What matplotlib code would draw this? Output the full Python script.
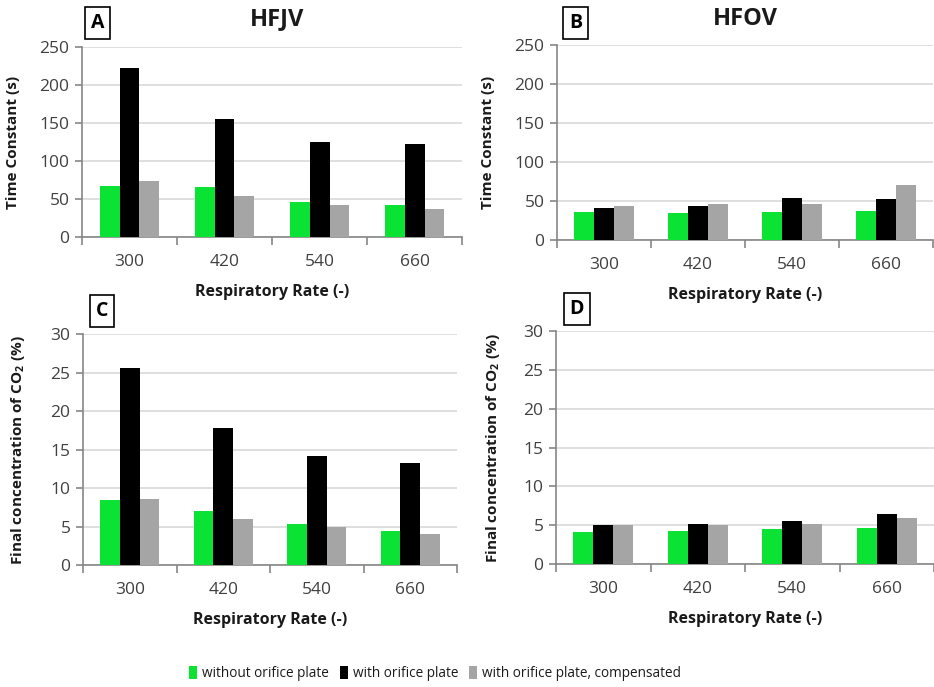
import matplotlib
matplotlib.use("Agg")
import matplotlib.pyplot as plt
from matplotlib.patches import Patch
import numpy as np

plt.rcParams['font.family'] = ['Open Sans', 'DejaVu Sans']
plt.rcParams['mathtext.fontset'] = 'custom'
plt.rcParams['mathtext.rm'] = 'Open Sans'
plt.rcParams['mathtext.bf'] = 'Open Sans:bold'

rates = ["300", "420", "540", "660"]
series_names = ["without orifice plate", "with orifice plate", "with orifice plate, compensated"]
colors = ["#0BE334", "#000000", "#A5A5A5"]

# Time constants (s)
hfjv_tc_without = [66.5, 66, 46, 42]
hfjv_tc_with = [222.5, 155, 125, 123]
hfjv_tc_comp = [74, 53.5, 42, 36.5]

hfov_tc_without = [35.5, 34, 35.5, 37]
hfov_tc_with = [41, 43, 54, 52]
hfov_tc_comp = [43, 46.5, 46.5, 70.5]

# Final CO2 concentration (%)
hfjv_co2_without = [8.5, 7.0, 5.3, 4.4]
hfjv_co2_with = [25.6, 17.8, 14.2, 13.3]
hfjv_co2_comp = [8.6, 6.0, 4.9, 4.0]

hfov_co2_without = [4.1, 4.3, 4.5, 4.7]
hfov_co2_with = [5.0, 5.2, 5.6, 6.5]
hfov_co2_comp = [5.0, 5.0, 5.2, 5.9]

text_col = "#1a1a1a"
tick_col = "#404040"
spine_col = "#868686"
grid_col = "#D9D9D9"

fig = plt.figure(figsize=(9.34, 6.87), dpi=100)

positions = {
    "A": [0.0878, 0.655, 0.4069, 0.2766],
    "B": [0.5964, 0.6507, 0.4026, 0.2838],
    "C": [0.0889, 0.1776, 0.4004, 0.3360],
    "D": [0.5953, 0.1790, 0.4047, 0.3390],
}

panels = [
    ("A", [hfjv_tc_without, hfjv_tc_with, hfjv_tc_comp], 250, 50, "Time Constant (s)", "HFJV"),
    ("B", [hfov_tc_without, hfov_tc_with, hfov_tc_comp], 250, 50, "Time Constant (s)", "HFOV"),
    ("C", [hfjv_co2_without, hfjv_co2_with, hfjv_co2_comp], 30, 5, r"Final concentration of CO$_{\mathbf{2}}$ (%)", None),
    ("D", [hfov_co2_without, hfov_co2_with, hfov_co2_comp], 30, 5, r"Final concentration of CO$_{\mathbf{2}}$ (%)", None),
]

x = np.arange(len(rates))
w = 0.21
ylabel_x = {"A": 0.021, "B": 0.530, "C": 0.029, "D": 0.538}

for key, data, ymax, step, ylabel, title in panels:
    b = positions[key]
    ax = fig.add_axes(b)
    for i, vals in enumerate(data):
        ax.bar(x + (i - 1) * w, vals, width=w, color=colors[i], zorder=3)
    ax.set_xlim(-0.5, 3.5)
    ax.set_ylim(0, ymax)
    ax.set_yticks(np.arange(0, ymax + step / 2, step))
    ax.yaxis.grid(True, color=grid_col, linewidth=1.2, zorder=0)
    ax.set_axisbelow(True)
    for s in ["top", "right"]:
        ax.spines[s].set_visible(False)
    for s in ["left", "bottom"]:
        ax.spines[s].set_color(spine_col)
        ax.spines[s].set_linewidth(1.2)
    ax.set_xticks(x)
    ax.set_xticklabels(rates)
    ax.set_xticks(np.arange(-0.5, 3.6, 1.0), minor=True)
    ax.tick_params(axis="x", which="major", length=0, pad=12, labelsize=12.5, labelcolor=tick_col)
    ax.tick_params(axis="x", which="minor", length=6, width=1.2, color=spine_col, direction="out")
    ax.tick_params(axis="y", length=5, width=1.2, color=spine_col, pad=4, labelsize=12.5, labelcolor=tick_col)
    ax.set_xlabel("Respiratory Rate (-)", fontsize=11.5, fontweight="bold", color=text_col, labelpad=10)
    ax.set_ylabel(ylabel, fontsize=11, fontweight="bold", color=text_col)
    ax.yaxis.set_label_coords(ylabel_x[key], b[1] + b[3] / 2, transform=fig.transFigure)
    if title:
        fig.text(b[0] + b[2] / 2 + (0.005 if key == "A" else 0.0), 0.972, title, fontsize=17,
                 fontweight="bold", color=text_col, ha="center", va="center")

box_pos = {"A": (0.1045, 0.967), "B": (0.6165, 0.967), "C": (0.1095, 0.547), "D": (0.6175, 0.550)}
for key, (bx, by) in box_pos.items():
    fig.text(bx, by, key, fontsize=14, fontweight="bold", color="black", ha="center", va="center",
             bbox=dict(boxstyle="square,pad=0.3", facecolor="white", edgecolor="black", linewidth=1.2))

handles = [Patch(facecolor=c, edgecolor="none") for c in colors]
fig.legend(handles, series_names, loc="center", bbox_to_anchor=(0.466, 0.019), ncol=3, frameon=False,
           fontsize=9.8, handlelength=0.6, handleheight=1.05, handletextpad=0.35, columnspacing=0.8,
           labelcolor=text_col)

fig.savefig("out.png", dpi=100)
